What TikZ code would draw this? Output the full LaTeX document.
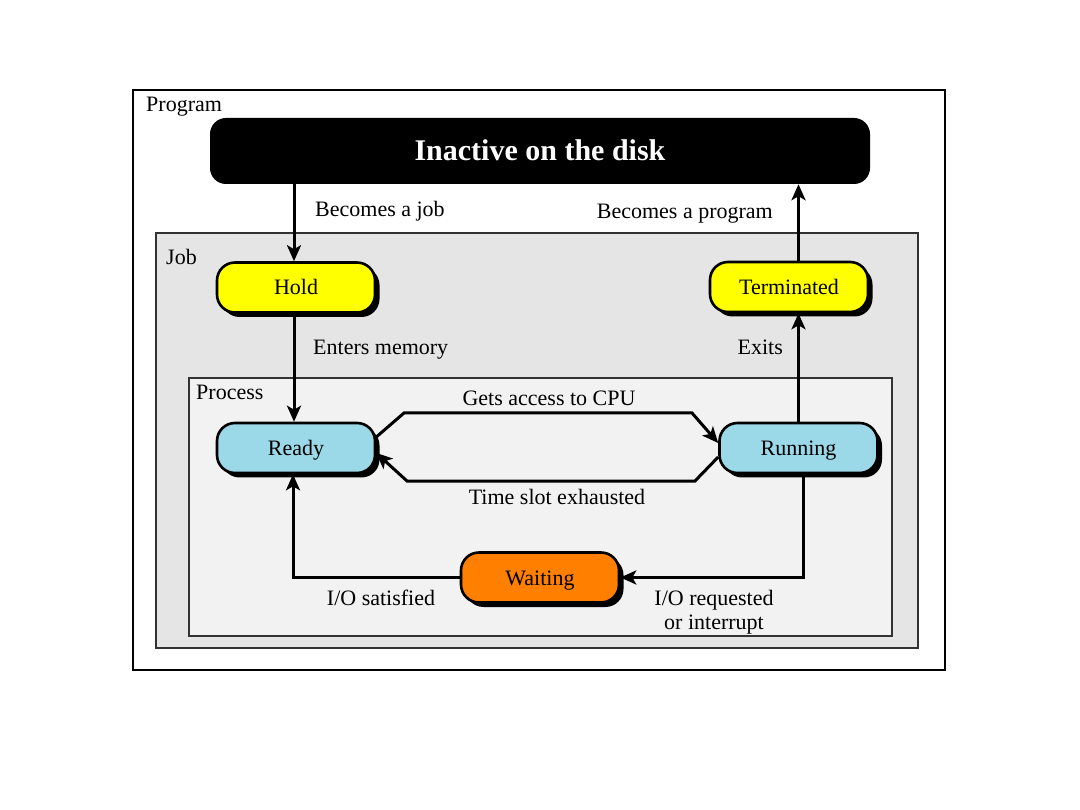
\documentclass[tikz,border=0pt]{standalone}
\usepackage{fontspec}
\setmainfont{Liberation Serif}
\usetikzlibrary{shadows,arrows.meta}
\definecolor{jobgray}{RGB}{229,229,229}
\definecolor{procgray}{RGB}{242,242,242}
\definecolor{stateblue}{RGB}{155,216,232}
\definecolor{stateorange}{RGB}{255,128,0}
\definecolor{stateyellow}{RGB}{255,255,0}
\definecolor{framegray}{RGB}{50,50,50}
\tikzset{
  statebox/.style={draw=black, line width=2.6pt, rounded corners=18pt,
    minimum width=158pt, minimum height=50pt, inner sep=0pt,
    text height=15pt, text depth=0pt,
    font=\fontsize{22}{24}\selectfont,
    drop shadow={shadow xshift=4.5pt, shadow yshift=-4.5pt, fill=black, opacity=1}},
  lbl/.style={font=\fontsize{22}{24}\selectfont, inner sep=0pt, text height=15pt, text depth=0pt},
  arr/.style={line width=3pt, -{Stealth[length=16pt,width=14pt,inset=4pt]}},
  framelbl/.style={font=\fontsize{22}{24}\selectfont, anchor=west, inner sep=0pt, text height=15pt, text depth=0pt},
}
\begin{document}
\begin{tikzpicture}[x=1pt,y=-1pt]
\useasboundingbox (0,0) rectangle (1080,810);
% frames
\draw[line width=1.8pt, fill=white] (133,90) rectangle (945,670);
\node[framelbl] (proglbl) at (146,104) {Program};
\draw[line width=1.4pt, draw=framegray, fill=jobgray] (156,233) rectangle (918,648);
\node[framelbl] (joblbl) at (166,257) {Job};
\draw[line width=1.4pt, draw=framegray, fill=procgray] (189,378) rectangle (892,636);
\node[framelbl] (proclbl) at (196,392) {Process};
% top bar
\node[fill=black, rounded corners=16pt, minimum width=660pt, minimum height=66pt,
      text height=20pt, text depth=0pt,
      text=white, font=\fontsize{30}{32}\selectfont\bfseries] (disk) at (540,151) {Inactive on the disk};
% states
\node[statebox, fill=stateyellow] (hold) at (296,287.5) {Hold};
\node[statebox, fill=stateyellow] (term) at (789,287) {Terminated};
\node[statebox, fill=stateblue] (ready) at (296,448) {Ready};
\node[statebox, fill=stateblue] (running) at (798.5,448) {Running};
\node[statebox, fill=stateorange] (waiting) at (540,577.5) {Waiting};
% connectors
\draw[arr] ([xshift=-2pt]hold.north |- disk.south) -- ([xshift=-2pt]hold.north);
\draw[arr] (running.north |- term.north) -- (running.north |- disk.south);
\draw[arr] ([xshift=-2pt]hold.south) -- ([xshift=-2pt]ready.north);
\draw[arr] (running.north) -- (running.north |- term.south);
\draw[arr] ([yshift=11pt]ready.east) -- (404,413) -- (692,413) -- ([yshift=5pt]running.west);
\draw[arr] ([yshift=-9pt]running.west) -- (695,481) -- (407,481) -- ([yshift=-5pt]ready.east);
\draw[arr] ([xshift=4.5pt]running.south) |- (waiting.east);
\draw[arr] (waiting.west) -| ([xshift=-3pt]ready.south);
% labels
\node[lbl, anchor=west] (l1) at (315,209) {Becomes a job};
\node[lbl, anchor=east] (l2) at (773,211) {Becomes a program};
\node[lbl, anchor=west] (l3) at (313,347) {Enters memory};
\node[lbl, anchor=east] (l4) at (783,347) {Exits};
\node[lbl] (l5) at (549,398) {Gets access to CPU};
\node[lbl] (l6) at (557,497) {Time slot exhausted};
\node[lbl] (l7) at (381,598) {I/O satisfied};
\node[lbl, align=center, text height=, text depth=] (l8) at (714,612) {I/O requested\\ or interrupt};
\end{tikzpicture}
\end{document}
